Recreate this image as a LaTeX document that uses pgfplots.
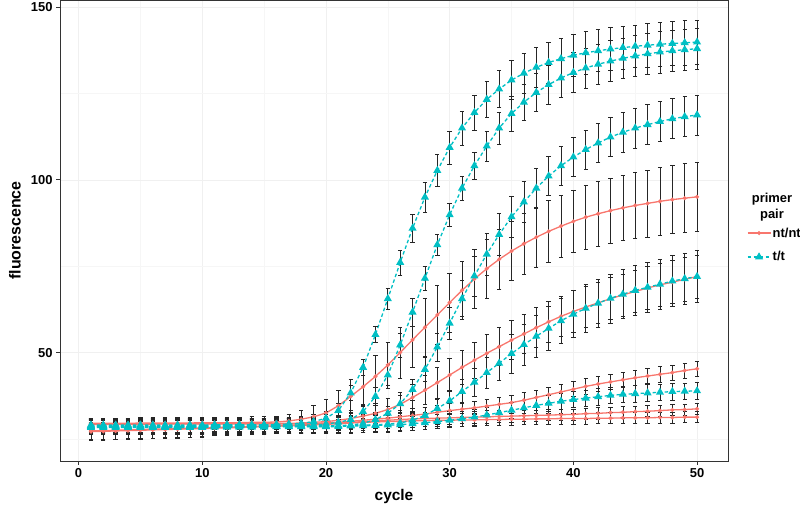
\documentclass[border=0pt]{standalone}
\usepackage{fontspec}
\setmainfont{Liberation Sans}
\usepackage{pgfplots}
\pgfplotsset{compat=1.18}
\usepackage{pgfplotstable}

\definecolor{ntred}{HTML}{F8766D}
\definecolor{ttcyan}{HTML}{00BFC4}
\definecolor{axgrey}{HTML}{333333}
\definecolor{gridc}{HTML}{F0F0F0}

% primer pair nt/nt : five curves (mean, error)
\pgfplotstableread{
c  r1    e1   r2   e2   r3   e3   r4   e4   r5   e5
1  29.5  1.6  29.3 1.6  29.2 1.6  27.3 2.5  27.1 2.5
2  29.5  1.6  29.3 1.6  29.2 1.6  27.4 2.5  27.2 2.5
3  29.5  1.6  29.3 1.6  29.2 1.6  27.5 2.5  27.3 2.5
4  29.5  1.6  29.3 1.6  29.2 1.6  27.6 2.5  27.4 2.5
5  29.6  1.6  29.3 1.6  29.2 1.6  27.7 2.5  27.5 2.5
6  29.6  1.6  29.4 1.6  29.3 1.6  27.8 2.5  27.6 2.5
7  29.6  1.6  29.4 1.6  29.3 1.6  27.9 2.5  27.7 2.5
8  29.6  1.6  29.4 1.6  29.3 1.6  28.0 2.5  27.8 2.5
9  29.6  1.6  29.4 1.6  29.3 1.6  28.1 2.5  27.9 2.5
10 29.7  1.6  29.4 1.6  29.3 1.6  28.2 2.5  28.0 2.5
11 29.7  1.6  29.4 1.6  29.3 1.6  28.3 2.2  28.1 2.2
12 29.7  1.6  29.4 1.6  29.3 1.6  28.4 2.2  28.2 2.2
13 29.7  1.6  29.5 1.6  29.3 1.6  28.5 2.2  28.3 2.2
14 29.8  1.6  29.5 1.6  29.3 1.6  28.6 2.2  28.4 2.2
15 29.8  1.6  29.5 1.6  29.3 1.6  28.7 2.2  28.6 2.2
16 29.9  1.6  29.5 1.6  29.3 1.6  28.8 2.2  28.7 2.2
17 30.2  2.0  29.5 1.6  29.3 1.6  28.9 2.2  28.8 2.2
18 30.7  2.6  29.6 1.6  29.4 1.6  29.0 2.2  28.9 2.2
19 31.4  3.3  29.8 1.8  29.5 1.6  29.2 2.2  29.1 2.2
20 32.5  4.0  30.0 2.0  29.6 1.6  29.4 2.2  29.2 2.2
21 34.6  4.5  30.4 2.2  29.8 1.6  29.6 1.8  29.4 1.8
22 37.3  5.0  30.9 2.5  30.1 1.6  29.8 1.8  29.6 1.8
23 40.1  5.5  31.6 2.7  30.4 1.6  30.0 1.8  29.8 1.8
24 43.1  6.0  32.4 3.0  30.7 1.6  30.2 1.8  29.9 1.8
25 46.4  6.7  33.5 3.3  31.0 2.0  30.4 1.8  30.0 1.8
26 50.0  7.4  35.0 3.6  31.4 2.0  30.6 1.8  30.1 1.8
27 53.7  8.0  37.0 3.9  31.8 2.0  30.8 1.8  30.2 1.8
28 57.3  8.3  39.1 4.2  32.2 2.0  30.9 1.8  30.3 1.8
29 60.9  8.5  41.3 4.5  32.7 2.0  31.0 1.8  30.4 1.8
30 64.5  8.5  43.5 4.8  33.2 2.0  31.1 1.8  30.4 1.8
31 68.0  8.5  45.7 5.0  33.6 2.0  31.2 1.8  30.5 1.8
32 71.3  8.5  47.8 5.2  34.0 2.0  31.3 1.8  30.5 1.8
33 74.3  8.5  49.8 5.4  34.5 2.0  31.4 1.8  30.6 1.8
34 77.0  8.6  51.7 5.5  35.0 2.0  31.5 1.8  30.6 1.8
35 79.4  8.6  53.6 5.6  35.5 2.2  31.6 1.8  30.7 1.8
36 81.5  8.7  55.4 5.7  36.2 2.2  31.7 1.6  30.7 1.6
37 83.4  8.8  57.2 5.8  37.0 2.2  31.8 1.6  30.8 1.6
38 85.1  8.9  58.9 5.9  37.8 2.2  31.9 1.6  30.8 1.6
39 86.6  9.0  60.5 5.9  38.6 2.2  32.0 1.6  30.9 1.6
40 88.0  9.1  61.9 6.0  39.4 2.2  32.1 1.6  30.9 1.6
41 89.2  9.2  63.2 6.0  40.2 2.2  32.3 1.6  30.9 1.6
42 90.2  9.3  64.4 6.0  40.9 2.2  32.4 1.6  31.0 1.6
43 91.1  9.4  65.6 6.1  41.5 2.2  32.6 1.6  31.0 1.6
44 91.9  9.5  66.7 6.1  42.1 2.2  32.7 1.6  31.1 1.6
45 92.6  9.6  67.7 6.1  42.7 2.2  32.9 1.6  31.1 1.6
46 93.2  9.7  68.7 6.2  43.2 2.2  33.0 1.6  31.1 1.6
47 93.8  9.8  69.6 6.2  43.7 2.2  33.2 1.6  31.2 1.6
48 94.3  9.9  70.4 6.2  44.2 2.2  33.4 1.6  31.2 1.6
49 94.7  10.0 71.2 6.3  44.8 2.2  33.5 1.6  31.3 1.6
50 95.1  10.1 72.0 6.3  45.3 2.2  33.7 1.6  31.3 1.6
}\ntdata

% primer pair t/t : five curves (mean, error)
\pgfplotstableread{
c  t1    f1   t2    f2   t3    f3   t4   f4   t5   f5
1  29.0  2.0  28.8  2.0  28.6  2.0  28.5 2.0  28.3 2.0
2  29.0  2.0  28.8  2.0  28.6  2.0  28.5 2.0  28.3 2.0
3  29.0  2.0  28.8  2.0  28.6  2.0  28.5 2.0  28.3 2.0
4  29.0  2.0  28.8  2.0  28.6  2.0  28.5 2.0  28.3 2.0
5  29.0  2.0  28.8  2.0  28.6  2.0  28.5 2.0  28.3 2.0
6  29.0  2.0  28.8  2.0  28.6  2.0  28.5 2.0  28.3 2.0
7  29.0  2.0  28.8  2.0  28.6  2.0  28.5 2.0  28.3 2.0
8  29.0  2.0  28.8  2.0  28.6  2.0  28.5 2.0  28.3 2.0
9  29.0  2.0  28.8  2.0  28.6  2.0  28.5 2.0  28.3 2.0
10 29.0  2.0  28.8  2.0  28.6  2.0  28.5 2.0  28.3 2.0
11 29.1  2.0  28.9  2.0  28.7  2.0  28.6 2.0  28.4 2.0
12 29.1  2.0  28.9  2.0  28.7  2.0  28.6 2.0  28.4 2.0
13 29.1  2.0  28.9  2.0  28.7  2.0  28.6 2.0  28.4 2.0
14 29.1  2.0  28.9  2.0  28.7  2.0  28.6 2.0  28.4 2.0
15 29.1  2.0  28.9  2.0  28.7  2.0  28.6 2.0  28.4 2.0
16 29.2  2.0  29.0  2.0  28.7  2.0  28.6 2.0  28.5 2.0
17 29.3  2.0  29.0  2.0  28.7  2.0  28.6 2.0  28.5 2.0
18 29.5  2.0  29.0  2.0  28.7  2.0  28.6 2.0  28.5 2.0
19 30.0  2.0  29.0  2.0  28.8  2.0  28.6 2.0  28.5 2.0
20 31.0  2.0  29.3  2.0  28.8  2.0  28.6 2.0  28.5 2.0
21 33.2  2.0  29.8  2.0  28.8  2.0  28.8 2.0  28.6 2.0
22 38.3  2.2  30.6  2.0  29.0  2.0  28.9 2.0  28.7 2.0
23 45.7  2.2  32.9  2.0  29.5  2.0  29.0 2.0  28.8 2.0
24 55.2  2.3  37.3  2.5  30.6  2.0  29.1 2.0  28.9 2.0
25 65.6  3.0  43.5  3.0  32.4  2.0  29.3 2.0  29.0 2.0
26 76.1  3.6  52.2  3.5  35.2  2.5  29.6 2.0  29.1 2.0
27 86.0  4.1  61.7  4.0  39.3  3.0  30.4 2.0  29.4 2.0
28 95.0  4.4  71.5  3.5  45.1  3.5  31.8 2.4  29.7 2.0
29 102.7 4.6  81.2  3.0  51.6  4.0  33.8 2.7  30.0 2.0
30 109.4 4.8  89.9  3.2  58.5  4.6  36.0 3.0  30.4 2.0
31 115.0 5.0  97.6  3.4  65.6  5.2  38.7 3.5  30.8 2.3
32 119.5 5.1  104.1 3.9  72.2  5.8  41.4 4.0  31.3 2.3
33 123.3 5.3  109.8 4.3  78.5  6.0  44.2 4.5  31.9 2.3
34 126.3 5.4  115.0 4.7  84.2  6.0  46.9 5.0  32.6 2.3
35 128.9 5.6  119.2 5.0  89.3  6.0  49.7 5.6  33.3 2.3
36 130.9 5.7  122.5 5.3  93.6  5.9  52.3 6.0  34.0 2.3
37 132.6 5.8  125.3 5.5  97.6  5.8  54.7 6.2  34.7 2.3
38 134.0 5.9  127.6 5.6  101.1 5.7  57.0 6.4  35.3 2.3
39 135.1 6.0  129.5 5.7  104.1 5.6  59.2 6.6  35.9 2.3
40 136.1 6.0  131.1 5.8  106.6 5.6  61.1 6.8  36.4 2.3
41 136.8 6.1  132.4 5.8  108.8 5.7  62.8 6.9  36.8 2.4
42 137.4 6.1  133.5 5.8  110.7 5.7  64.3 7.0  37.2 2.4
43 137.9 6.2  134.4 5.9  112.4 5.7  65.7 7.1  37.6 2.4
44 138.3 6.2  135.2 5.9  113.8 5.7  66.9 7.1  37.9 2.4
45 138.7 6.2  135.9 5.9  115.0 5.8  68.0 7.2  38.1 2.4
46 139.0 6.3  136.5 5.9  116.0 5.8  68.9 7.3  38.3 2.4
47 139.3 6.3  137.0 6.0  116.9 5.8  69.8 7.3  38.5 2.4
48 139.5 6.3  137.4 6.0  117.7 5.8  70.7 7.4  38.7 2.4
49 139.7 6.4  137.7 6.0  118.3 5.8  71.4 7.4  38.8 2.4
50 139.9 6.4  138.0 6.0  118.8 5.8  72.0 7.5  38.9 2.4
}\ttdata

\pgfplotsset{
  ntline/.style={ntred, line width=1.3bp, mark=*, mark size=1.3bp, mark options={solid}},
  ttline/.style={ttcyan, line width=1.3bp, dash pattern=on 3.5bp off 2.5bp,
    mark=triangle*, mark size=3.4bp, mark options={solid}},
  ebar/.style={error bars/.cd, y dir=both, y explicit,
    error bar style={black!85, line width=0.65bp, solid},
    error mark options={rotate=90, black!85, line width=0.65bp, mark size=2.2bp, solid}},
}

\begin{document}
\begin{tikzpicture}
\path[use as bounding box] (0,0) rectangle (800bp,513bp);
\begin{axis}[
  at={(60bp,52bp)}, anchor=south west,
  scale only axis, width=668bp, height=461bp,
  xmin=-1.5, xmax=52.5, ymin=18.6, ymax=152.1,
  xtick={0,10,...,50}, ytick={50,100,150},
  minor xtick={5,15,...,45}, minor ytick={25,75,125},
  grid=both,
  major grid style={gridc, line width=0.8bp},
  minor grid style={gridc!60!white, line width=0.5bp},
  axis line style={axgrey, line width=0.9bp},
  tick style={axgrey, line width=0.9bp},
  tick align=outside, tick pos=left,
  major tick length=4bp, minor tick length=0pt,
  ticklabel style={font=\fontsize{13}{13}\selectfont\bfseries, text=black},
  /pgf/number format/assume math mode=true,
  xlabel={cycle}, ylabel={fluorescence},
  every axis x label/.style={at={(axis description cs:0.5,0)}, yshift=-36bp, anchor=center,
    font=\fontsize{15.5}{15.5}\selectfont\bfseries},
  every axis y label/.style={at={(axis description cs:0,0.5)}, xshift=-45bp, anchor=center,
    rotate=90, font=\fontsize{16}{16}\selectfont\bfseries},
  legend style={at={(1.028,0.4685)}, anchor=west, draw=none, fill=none,
    inner sep=0pt, row sep=10bp, font=\fontsize{13}{13}\selectfont\bfseries,
    nodes={inner sep=1.5bp}},
  legend cell align=left,
  legend image code/.code={\draw[mark repeat=2, mark phase=2]
    plot coordinates {(0bp,0bp) (11.5bp,0bp) (23bp,0bp)};},
]
\addplot[ntline, forget plot, ebar] table[x=c, y=r1, y error=e1] {\ntdata};
\addplot[ntline, forget plot, ebar] table[x=c, y=r2, y error=e2] {\ntdata};
\addplot[ntline, forget plot, ebar] table[x=c, y=r3, y error=e3] {\ntdata};
\addplot[ntline, forget plot, ebar] table[x=c, y=r4, y error=e4] {\ntdata};
\addplot[ntline, forget plot, ebar] table[x=c, y=r5, y error=e5] {\ntdata};
\addplot[ttline, forget plot, ebar] table[x=c, y=t1, y error=f1] {\ttdata};
\addplot[ttline, forget plot, ebar] table[x=c, y=t2, y error=f2] {\ttdata};
\addplot[ttline, forget plot, ebar] table[x=c, y=t3, y error=f3] {\ttdata};
\addplot[ttline, forget plot, ebar] table[x=c, y=t4, y error=f4] {\ttdata};
\addplot[ttline, forget plot, ebar] table[x=c, y=t5, y error=f5] {\ttdata};
\addlegendimage{ntline}
\addlegendentry{nt/nt}
\addlegendimage{ttline}
\addlegendentry{t/t}
\end{axis}
\node[font=\fontsize{13}{16}\selectfont\bfseries, align=center] at (772bp,305.5bp) {primer\\pair};
\end{tikzpicture}
\end{document}
